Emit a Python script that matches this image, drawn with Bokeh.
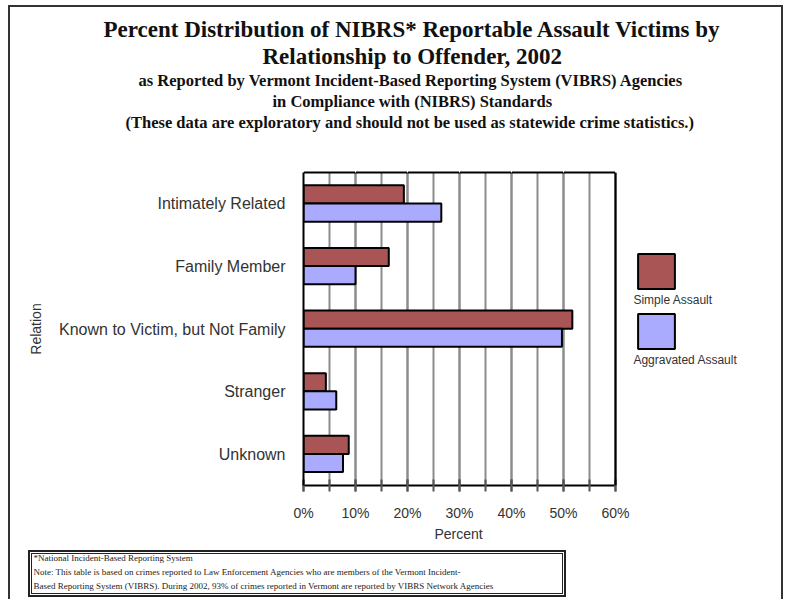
from bokeh.plotting import figure
from bokeh.models import (ColumnDataSource, FactorRange, Range1d, SingleIntervalTicker,
                          LinearAxis, PrintfTickFormatter, CustomJSTickFormatter, Legend,
                          LegendItem, Title, Span)
from bokeh.transform import dodge
from bokeh.embed import file_html
from bokeh.resources import INLINE

# ---- data ----
categories = ["Intimately Related", "Family Member", "Known to Victim, but Not Family",
              "Stranger", "Unknown"]
simple_assault = [19.3, 16.4, 51.7, 4.3, 8.7]
aggravated_assault = [26.5, 10.0, 49.7, 6.3, 7.6]
series_names = ["Simple Assault", "Aggravated Assault"]
x_min, x_max = 0, 60
x_tick_step = 10
x_axis_title = "Percent"
y_axis_title = "Relation"

title_lines = [
    "Percent Distribution of NIBRS* Reportable Assault Victims by",
    "Relationship to Offender, 2002",
]
subtitle_lines = [
    "as Reported by Vermont Incident-Based Reporting System (VIBRS) Agencies",
    "in Compliance with (NIBRS) Standards",
    "(These data are exploratory and should not be used as statewide crime statistics.)",
]
footnote_lines = [
    "*National Incident-Based Reporting System",
    "Note: This table is based on crimes reported to Law Enforcement Agencies who are members of the Vermont Incident-",
    "Based Reporting System (VIBRS).  During 2002, 93% of crimes reported in Vermont are reported by VIBRS Network Agencies",
]

# ---- layout (pixel positions in the picture) ----
W, H = 784, 597
FL, FT, FW, FH = 303, 172, 312, 313      # plot area (0..60 %)
FB = FT + FH
FRAME_W = W - FL                         # frame continues right to hold the legend
x_end = x_max * FRAME_W / FW

source = ColumnDataSource(dict(cat=categories, simple=simple_assault, aggr=aggravated_assault))

p = figure(frame_width=FRAME_W, frame_height=FH, output_backend="svg", toolbar_location=None,
           y_range=FactorRange(*reversed(categories)), x_range=Range1d(x_min, x_end),
           min_border_left=FL, min_border_top=FT, min_border_right=0,
           min_border_bottom=H - FT - FH)
p.background_fill_color = "white"
p.border_fill_color = None
p.outline_line_color = None

r1 = p.hbar(y=dodge("cat", 0.15, range=p.y_range), left=0, right="simple", height=0.29,
            source=source, fill_color="#A95555", line_color="black", line_width=2)
r2 = p.hbar(y=dodge("cat", -0.14, range=p.y_range), left=0, right="aggr", height=0.29,
            source=source, fill_color="#AAAAFF", line_color="black", line_width=2)

xa = p.xaxis[0]
xa.bounds = (x_min, x_max)
xa.ticker = SingleIntervalTicker(interval=x_tick_step, num_minor_ticks=2)
xa.formatter = PrintfTickFormatter(format="%d%%")
xa.axis_line_color = "black"
xa.axis_line_width = 2
xa.major_tick_in = 6
xa.major_tick_out = 6
xa.minor_tick_in = 6
xa.minor_tick_out = 6
xa.major_tick_line_color = "#555555"
xa.minor_tick_line_color = "#555555"
xa.major_tick_line_width = 2
xa.minor_tick_line_width = 2
xa.major_label_standoff = 13
xa.major_label_text_font = "Liberation Sans"
xa.major_label_text_font_size = "14px"
xa.major_label_text_color = "#333333"
xa.axis_label = None

ya = p.yaxis[0]
ya.axis_line_color = "black"
ya.axis_line_width = 2
ya.major_tick_in = 0
ya.major_tick_out = 0
ya.major_label_standoff = 18
ya.major_label_text_font = "Liberation Sans"
ya.major_label_text_font_size = "16px"
ya.major_label_text_color = "#333333"
ya.axis_label = y_axis_title
ya.axis_label_standoff = 12
ya.axis_label_text_font = "Liberation Sans"
ya.axis_label_text_font_size = "14px"
ya.axis_label_text_font_style = "normal"
ya.axis_label_text_color = "#333333"

p.ygrid.grid_line_color = None
p.xgrid.bounds = (x_min, x_max)
p.xgrid.grid_line_color = "#8c8c8c"
p.xgrid.grid_line_width = 2
p.xgrid.minor_grid_line_color = "#8c8c8c"
p.xgrid.minor_grid_line_width = 2

# right edge of the plot area
p.add_layout(Span(location=x_max, dimension="height", line_color="black", line_width=2))


def edge_axis(tick_room, line_color):
    """top edge of the plot area / empty room between side panels (no visible ticks or labels)"""
    return LinearAxis(bounds=(x_min, x_max),
                      ticker=SingleIntervalTicker(interval=x_tick_step, num_minor_ticks=0),
                      formatter=CustomJSTickFormatter(code="return ''"),
                      axis_line_color=line_color, axis_line_width=2,
                      major_tick_in=0, major_tick_out=tick_room, minor_tick_in=0,
                      minor_tick_out=0, major_tick_line_color="white",
                      major_label_standoff=0)


# ---- legends: swatch with the series name underneath ----
for r, name, box_top in [(r1, series_names[0], 253), (r2, series_names[1], 313)]:
    y1 = box_top - 4.4
    lg = Legend(items=[LegendItem(label="", renderers=[r])],
                location=(638 - 4.6 - FL, FB - (y1 + 44 + 14)),
                glyph_width=46, glyph_height=44, label_height=0, label_standoff=0,
                label_text_font_size="1px",
                title=name, title_location="below", title_standoff=0,
                title_text_font="Liberation Sans", title_text_font_size="12px",
                title_text_font_style="normal", title_text_color="#333333",
                padding=0, margin=0, spacing=0, border_line_color=None,
                background_fill_alpha=0)
    p.add_layout(lg)

# ---- titles (added from the frame outward) ----
p.add_layout(edge_axis(41, "black"), "above")
for text, size, left in [(subtitle_lines[2], "16.5px", 125),
                         (subtitle_lines[1], "16.5px", 272),
                         (subtitle_lines[0], "16.5px", 138),
                         (title_lines[1], "23px", 262),
                         (title_lines[0], "23px", 103)]:
    p.add_layout(Title(text=text, align="left", offset=left - FL, standoff=0,
                       text_font="Liberation Serif", text_font_style="bold",
                       text_font_size=size, text_color="#111111"), "above")

# ---- x axis title, centred under the 0..60 % scale ----
p.add_layout(Title(text=x_axis_title, align="left", offset=(FW / 2) - 25, standoff=0,
                   text_font="Liberation Sans", text_font_style="normal",
                   text_font_size="14px", text_color="#333333"), "below")

# ---- footnote text ----
p.add_layout(edge_axis(8, None), "below")
for text in footnote_lines:
    p.add_layout(Title(text=text, align="left", offset=33 - FL, standoff=2,
                       text_font="Liberation Serif", text_font_style="normal",
                       text_font_size="9px", text_color="#222222"), "below")

# ---- outer frame and footnote box (page decoration) ----
frame_css = (
    ":host { position: relative; }"
    ":host::after { content: ''; position: absolute; left: 8px; top: 5px; right: 1px;"
    " bottom: -2px; border: 2px solid #333333; border-bottom: none; pointer-events: none;"
    " z-index: 10; }"
    ":host::before { content: ''; position: absolute; left: 28px; top: 550px; width: 534px;"
    " height: 43px; border: 2px solid #222222; outline: 1px solid #222222;"
    " outline-offset: -4px; pointer-events: none; z-index: 10; }"
)
p.stylesheets = [frame_css]

open("out.html", "w").write(file_html(p, INLINE))
